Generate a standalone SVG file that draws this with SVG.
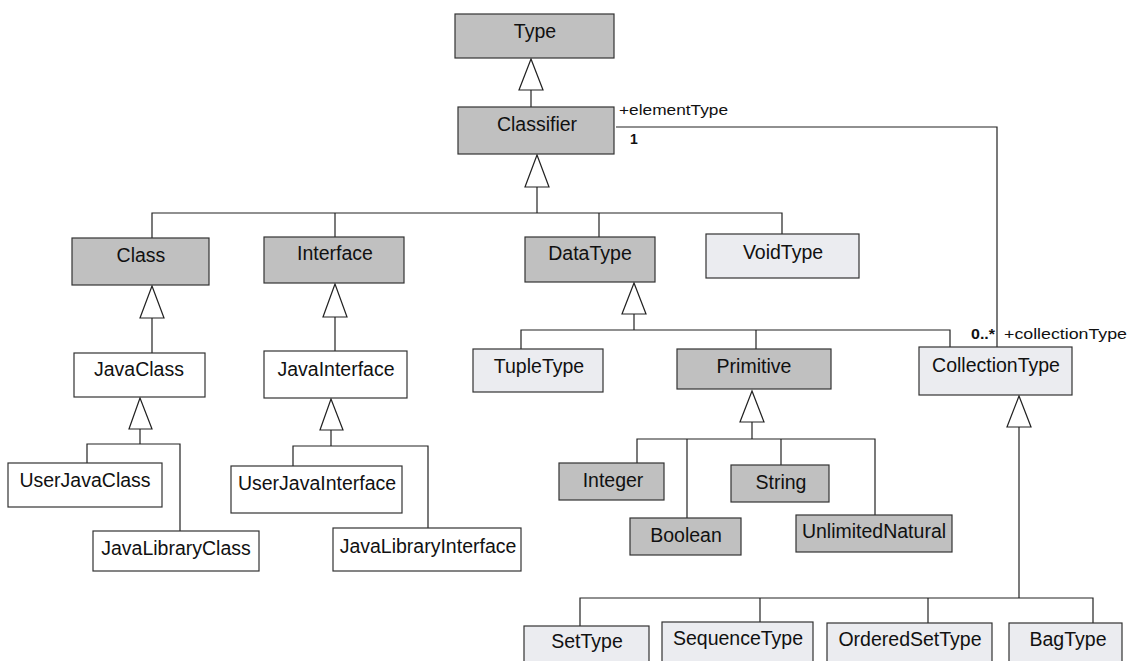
<svg xmlns="http://www.w3.org/2000/svg" width="1130" height="661" viewBox="0 0 1130 661">
<style>
.box{stroke:#333;stroke-width:1.2}
.g{fill:#c0c0c0}
.l{fill:#ebecf0}
.w{fill:#ffffff}
.t{font-family:"Liberation Sans",Arial,sans-serif;font-size:19.5px;fill:#111;text-anchor:middle}
.lbl{font-family:"Liberation Sans",Arial,sans-serif;font-size:14px;fill:#111}
.b{font-weight:bold}
.c{fill:none;stroke:#222;stroke-width:1.2}
.tri{fill:#fff;stroke:#222;stroke-width:1.2}
</style>
<rect width="1130" height="661" fill="#fff"/>
<g id="connectors">
<line class="c" x1="531" y1="90" x2="531" y2="107"/>
<polygon class="tri" points="531,59 519,90 543,90"/>
<polyline class="c" points="537,187 537,213"/>
<polyline class="c" points="152,238 152,213 782,213 782,234"/>
<line class="c" x1="335" y1="213" x2="335" y2="237"/>
<line class="c" x1="599" y1="213" x2="599" y2="237"/>
<polygon class="tri" points="537,155 525,187 549,187"/>
<line class="c" x1="152" y1="318" x2="152" y2="353"/>
<polygon class="tri" points="152,286 140,318 164,318"/>
<line class="c" x1="335" y1="317" x2="335" y2="351"/>
<polygon class="tri" points="335,284 323,317 347,317"/>
<polyline class="c" points="140,429 140,444"/>
<polyline class="c" points="87,463 87,444 180,444 180,531"/>
<polygon class="tri" points="140,398 129,429 152,429"/>
<polyline class="c" points="331,430 331,446"/>
<polyline class="c" points="293,466 293,446 428,446 428,528"/>
<polygon class="tri" points="331,399 320,430 343,430"/>
<polyline class="c" points="634,314 634,330"/>
<polyline class="c" points="521,349 521,330 950,330 950,347"/>
<line class="c" x1="756" y1="330" x2="756" y2="349"/>
<polygon class="tri" points="634,283 622,314 646,314"/>
<polyline class="c" points="752,422 752,439"/>
<polyline class="c" points="637,463 637,439 875,439 875,515"/>
<line class="c" x1="687" y1="439" x2="687" y2="518"/>
<line class="c" x1="781" y1="439" x2="781" y2="465"/>
<polygon class="tri" points="752,391 740,422 764,422"/>
<polyline class="c" points="1019,427 1019,598"/>
<polyline class="c" points="580,626 580,598 1093,598 1093,623"/>
<line class="c" x1="760" y1="598" x2="760" y2="622"/>
<line class="c" x1="928" y1="598" x2="928" y2="623"/>
<polygon class="tri" points="1019,396 1007,427 1031,427"/>
<polyline class="c" points="616,127 997,127 997,347"/>
<text class="lbl" x="619" y="115" textLength="109" lengthAdjust="spacingAndGlyphs">+elementType</text>
<text class="lbl b" x="630" y="144">1</text>
<text class="lbl b" x="971" y="339" textLength="24" lengthAdjust="spacingAndGlyphs">0..*</text>
<text class="lbl" x="1004" y="339" textLength="123" lengthAdjust="spacingAndGlyphs">+collectionType</text>
</g>
<g id="Type"><rect class="box g" x="455" y="14" width="159" height="44"/><text class="t" x="535" y="38">Type</text></g>
<g id="Classifier"><rect class="box g" x="458" y="107" width="156" height="47"/><text class="t" x="537" y="131">Classifier</text></g>
<g id="Class"><rect class="box g" x="72" y="238" width="137" height="47"/><text class="t" x="141" y="262">Class</text></g>
<g id="Interface"><rect class="box g" x="264" y="237" width="140" height="46"/><text class="t" x="335" y="260">Interface</text></g>
<g id="DataType"><rect class="box g" x="525" y="237" width="130" height="45"/><text class="t" x="590" y="260">DataType</text></g>
<g id="VoidType"><rect class="box l" x="706" y="234" width="153" height="44"/><text class="t" x="783" y="259">VoidType</text></g>
<g id="JavaClass"><rect class="box w" x="74" y="353" width="131" height="44"/><text class="t" x="139" y="376">JavaClass</text></g>
<g id="JavaInterface"><rect class="box w" x="264" y="351" width="143" height="47"/><text class="t" x="336" y="376">JavaInterface</text></g>
<g id="UserJavaClass"><rect class="box w" x="8" y="463" width="154" height="44"/><text class="t" x="85" y="487">UserJavaClass</text></g>
<g id="JavaLibraryClass"><rect class="box w" x="93" y="531" width="166" height="40"/><text class="t" x="176" y="555">JavaLibraryClass</text></g>
<g id="UserJavaInterface"><rect class="box w" x="231" y="466" width="171" height="47"/><text class="t" x="317" y="490">UserJavaInterface</text></g>
<g id="JavaLibraryInterface"><rect class="box w" x="333" y="528" width="188" height="43"/><text class="t" x="428" y="553">JavaLibraryInterface</text></g>
<g id="TupleType"><rect class="box l" x="473" y="349" width="130" height="43"/><text class="t" x="539" y="373">TupleType</text></g>
<g id="Primitive"><rect class="box g" x="677" y="349" width="154" height="40"/><text class="t" x="754" y="373">Primitive</text></g>
<g id="CollectionType"><rect class="box l" x="919" y="347" width="153" height="48"/><text class="t" x="996" y="372">CollectionType</text></g>
<g id="Integer"><rect class="box g" x="559" y="463" width="105" height="37"/><text class="t" x="613" y="487">Integer</text></g>
<g id="String"><rect class="box g" x="731" y="465" width="98" height="37"/><text class="t" x="781" y="489">String</text></g>
<g id="Boolean"><rect class="box g" x="630" y="518" width="111" height="37"/><text class="t" x="686" y="542">Boolean</text></g>
<g id="UnlimitedNatural"><rect class="box g" x="796" y="515" width="156" height="37"/><text class="t" x="874" y="538">UnlimitedNatural</text></g>
<g id="SetType"><rect class="box l" x="524" y="626" width="125" height="50"/><text class="t" x="587" y="648">SetType</text></g>
<g id="SequenceType"><rect class="box l" x="662" y="622" width="151" height="50"/><text class="t" x="738" y="645">SequenceType</text></g>
<g id="OrderedSetType"><rect class="box l" x="827" y="623" width="165" height="50"/><text class="t" x="910" y="646">OrderedSetType</text></g>
<g id="BagType"><rect class="box l" x="1009" y="623" width="113" height="50"/><text class="t" x="1068" y="646">BagType</text></g>
</svg>
